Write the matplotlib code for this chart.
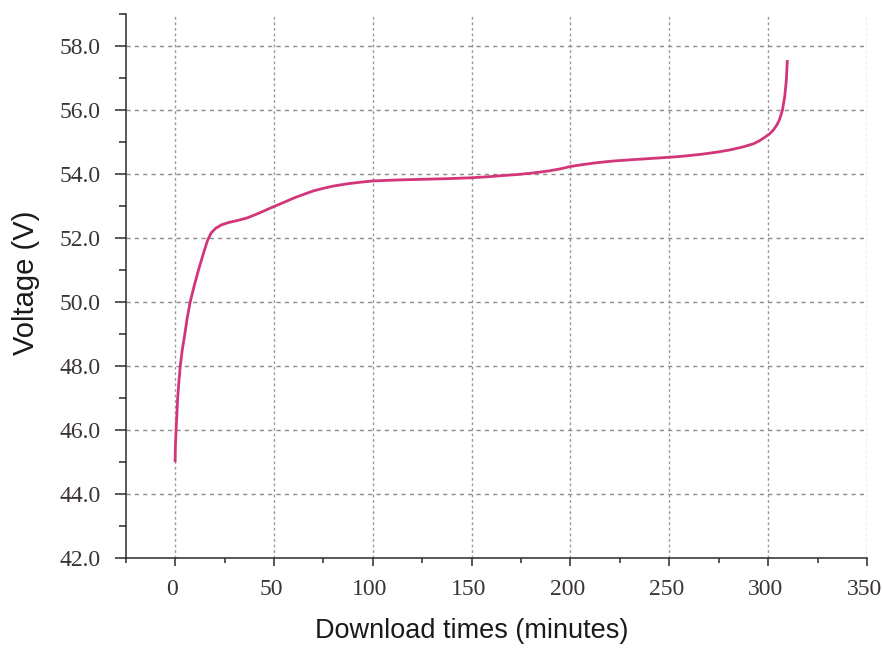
import numpy as np
import matplotlib
matplotlib.use("Agg")
import matplotlib.pyplot as plt
import matplotlib.transforms as mtransforms
from matplotlib.ticker import MultipleLocator, FormatStrFormatter

# charge curve
minutes = [0, 0.15, 0.5, 0.9, 1.3, 1.9, 2.6, 3.6, 4.9, 6.1, 7.6, 9.6, 11.8,
           14.2, 16.5, 18.3, 20.5, 23.5, 27, 32, 36.2, 39.5, 43, 50, 55, 59.8,
           65, 70, 75, 80, 87, 93.6, 100, 112, 123.9, 137, 150, 158, 166, 173,
           179.6, 185, 189.7, 195, 199.8, 206, 213.3, 221, 230, 240, 250, 258,
           267, 274, 280.7, 287, 292.5, 295.7, 298.4, 300.7, 302.6, 304.3,
           305.7, 307.2, 308.4, 309.2, 309.7]
voltage = [45.0, 45.5, 46.0, 46.5, 47.0, 47.5, 48.0, 48.5, 49.0, 49.5, 50.0,
           50.5, 51.0, 51.5, 51.95, 52.17, 52.31, 52.42, 52.49, 52.56, 52.63,
           52.71, 52.8, 52.99, 53.12, 53.25, 53.37, 53.48, 53.56, 53.63, 53.7,
           53.75, 53.79, 53.82, 53.84, 53.86, 53.89, 53.92, 53.96, 53.99, 54.03,
           54.07, 54.11, 54.17, 54.24, 54.3, 54.36, 54.41, 54.45, 54.49, 54.53,
           54.57, 54.63, 54.69, 54.76, 54.85, 54.95, 55.05, 55.16, 55.26, 55.38,
           55.53, 55.7, 56.0, 56.43, 56.95, 57.57]

tick_col = "#3a3532"
axis_col = "#2f2a28"

fig = plt.figure(figsize=(8.82, 6.49), dpi=100)
ax = fig.add_axes([0.1425, 0.140, 0.8405, 0.838])

ax.plot(minutes, voltage, color="#d3357a", lw=2.0, solid_joinstyle="round",
        solid_capstyle="butt", zorder=3)

ax.set_xlim(-25, 350)
ax.set_ylim(42, 59)
ax.xaxis.set_major_locator(MultipleLocator(50))
ax.xaxis.set_minor_locator(MultipleLocator(25))
ax.yaxis.set_major_locator(MultipleLocator(2))
ax.yaxis.set_minor_locator(MultipleLocator(1))
ax.yaxis.set_major_formatter(FormatStrFormatter("%.1f"))

for s in ["top", "right"]:
    ax.spines[s].set_visible(False)
for s in ["left", "bottom"]:
    ax.spines[s].set_color(axis_col)
    ax.spines[s].set_linewidth(1.1)

ax.tick_params(axis="x", which="major", length=6, width=1.1, color=axis_col, pad=9)
ax.tick_params(axis="x", which="minor", length=3.6, width=1.1, color=axis_col)
ax.tick_params(axis="y", which="major", length=8, width=1.1, color=axis_col, pad=10)
ax.tick_params(axis="y", which="minor", length=5, width=1.1, color=axis_col)
for lab in ax.get_xticklabels() + ax.get_yticklabels():
    lab.set_family("Liberation Serif")
    lab.set_fontsize(17)
    lab.set_color(tick_col)

# x tick labels sit a little left of their ticks in the reference
xlabs = ax.get_xticklabels()
for i, lab in enumerate(xlabs):
    dx = -7 if i == len(xlabs) - 1 else -3
    lab.set_transform(lab.get_transform() +
                      mtransforms.ScaledTranslation(dx / 100, 0, fig.dpi_scale_trans))

ax.xaxis.grid(True, which="major", color="#9a9a9a", ls=(0, (2, 2)), lw=1.0)
ax.yaxis.grid(True, which="major", color="#8a8a8a", ls=(0, (3, 3)), lw=1.0)
ax.set_axisbelow(True)

ax.set_xlabel("Download times (minutes)", family="Liberation Sans", fontsize=19.5,
              color="#1a1a1a", labelpad=13)
ax.set_ylabel("Voltage (V)", family="Liberation Sans", fontsize=21,
              color="#1a1a1a", labelpad=14)
ax.xaxis.label.set_x(0.467)
ax.yaxis.label.set_y(0.507)

fig.savefig("out.png", dpi=100)
